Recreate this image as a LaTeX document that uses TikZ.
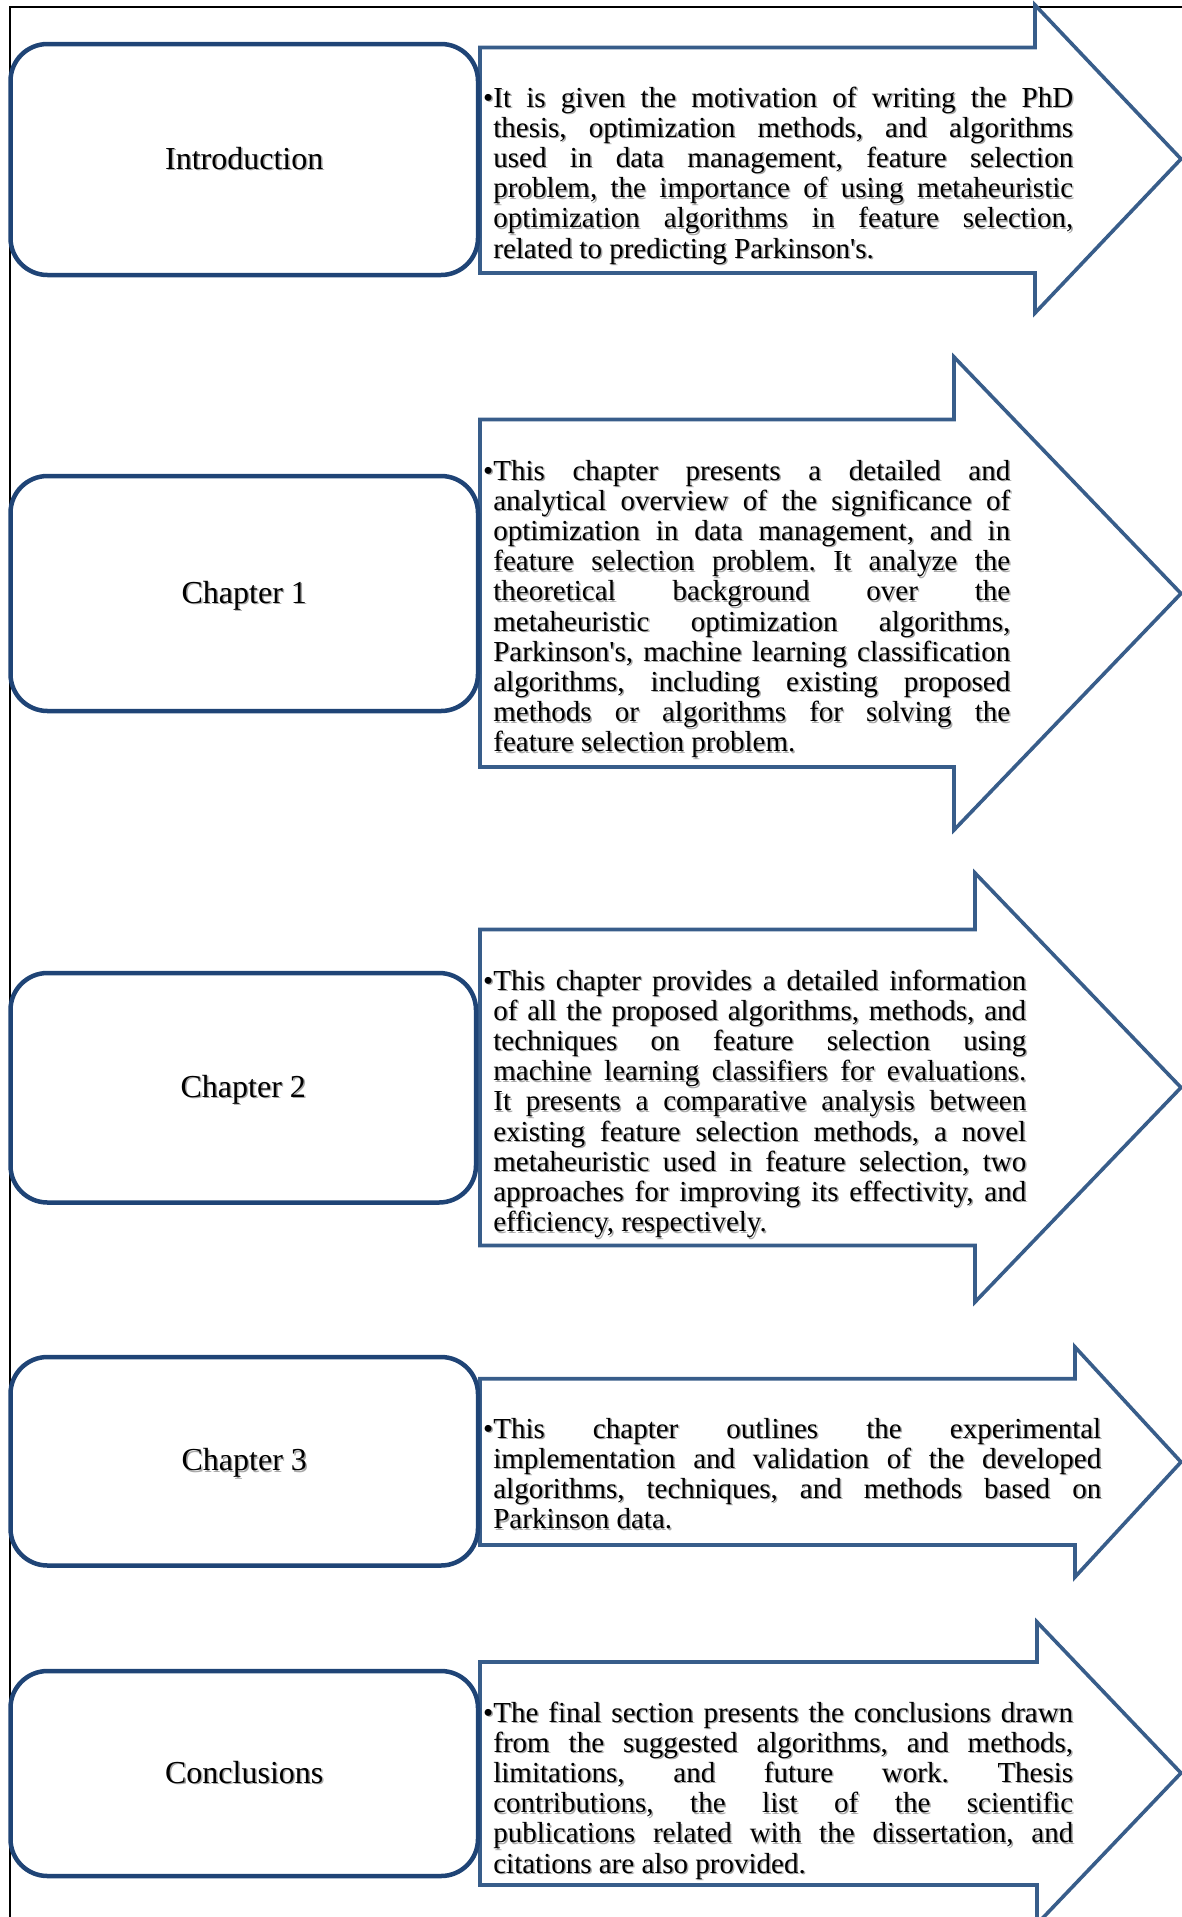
\documentclass[tikz,border=0pt]{standalone}
\usepackage{fontspec}
\setmainfont{Liberation Serif}[Ligatures=TeXOff]
\definecolor{arrowblue}{HTML}{385D8A}
\definecolor{boxnavy}{HTML}{1F4476}
\definecolor{shadowgray}{HTML}{A8A8A8}
\frenchspacing

\newlength\bulw
% text with a soft drop shadow behind it (single line)
\newcommand\withshadow[1]{\makebox[0pt][l]{\hspace*{1.5pt}\raisebox{-1.5pt}{\textcolor{shadowgray}{#1}}}#1}
% bulleted, justified paragraph with a hanging indent
\newcommand\bulletpara[1]{\frenchspacing\tolerance=10000 \hyphenpenalty=10000 \exhyphenpenalty=10000
  \settowidth{\bulw}{•}\hangindent=\bulw \hangafter=1 \noindent •#1\par}

\newcommand\introtext{\bulletpara{It is given the motivation of writing the PhD \linebreak
thesis, optimization methods, and algorithms \linebreak
used in data management, feature selection \linebreak
problem, the importance of using metaheuristic \linebreak
optimization algorithms in feature selection, \linebreak
related to predicting Parkinson's.}}

\newcommand\chaponetext{\bulletpara{This chapter presents a detailed and \linebreak
analytical overview of the significance of \linebreak
optimization in data management, and in \linebreak
feature selection problem. It analyze the \linebreak
theoretical background over the \linebreak
metaheuristic optimization algorithms, \linebreak
Parkinson's, machine learning classification \linebreak
algorithms, including existing proposed \linebreak
methods or algorithms for solving the \linebreak
feature selection problem.}}

\newcommand\chaptwotext{\bulletpara{This chapter provides a detailed information \linebreak
of all the proposed algorithms, methods, and \linebreak
techniques on feature selection using \linebreak
machine learning classifiers for evaluations. \linebreak
It presents a comparative analysis between \linebreak
existing feature selection methods, a novel \linebreak
metaheuristic used in feature selection, two \linebreak
approaches for improving its effectivity, and \linebreak
efficiency, respectively.}}

\newcommand\chapthreetext{\bulletpara{This chapter outlines the experimental \linebreak
implementation and validation of the developed \linebreak
algorithms, techniques, and methods based on \linebreak
Parkinson data.}}

\newcommand\conctext{\bulletpara{The final section presents the conclusions drawn \linebreak
from the suggested algorithms, and methods, \linebreak
limitations, and future work. Thesis \linebreak
contributions, the list of the scientific \linebreak
publications related with the dissertation, and \linebreak
citations are also provided.}}

% block arrow: left, body top, body bottom, head base x, head top, head bottom, tip y
\newcommand\blockarrow[7]{%
  \draw[arrowline] (#1,#2) -- (#4,#2) -- (#4,#5) -- (1181,#7) -- (#4,#6)
    -- (#4,#3) -- (#1,#3) -- cycle;}

\begin{document}
\begin{tikzpicture}[x=1pt,y=-1pt,
  arrowline/.style={draw=arrowblue, line width=3.6pt, fill=white, line join=miter},
  chapbox/.style={draw=boxnavy, line width=4.5pt, fill=white, rounded corners=37pt,
    rectangle, inner sep=0pt},
  chaptitle/.style={font=\fontsize{32}{36}\selectfont, inner sep=0pt, anchor=base,
    yshift=-9.5pt},
  bodytext/.style={font=\fontsize{29}{30.2}\selectfont, align=justify, inner sep=0pt,
    anchor=base west},
  bodyshadow/.style={bodytext, text=shadowgray}
]
\useasboundingbox (0,0) rectangle (1182,1917);
\clip (0,0) rectangle (1182,1917);

% page frame
\draw[line width=2pt] (9.5,1917) -- (9.5,7) -- (1182,7);

% block arrows
\blockarrow{480}{47.5}{273}{1035}{5}{313}{159}
\blockarrow{480}{419.5}{767}{954}{357}{830}{593.5}
\blockarrow{480}{929.5}{1245.5}{975}{873}{1302}{1087.5}
\blockarrow{480}{1378.7}{1545}{1075}{1347}{1577}{1462}
\blockarrow{480}{1662}{1885}{1037}{1622}{1924}{1773}

% rounded chapter boxes
\node[chapbox, minimum width=467.5pt, minimum height=231pt] (intro) at (244.25,159.5) {};
\node[chapbox, minimum width=467.5pt, minimum height=235pt] (chone) at (244.25,593.5) {};
\node[chapbox, minimum width=465.5pt, minimum height=229.5pt] (chtwo) at (243.25,1087.75) {};
\node[chapbox, minimum width=467.5pt, minimum height=208.5pt] (chthree) at (244.25,1461.25) {};
\node[chapbox, minimum width=467.5pt, minimum height=205pt] (conc) at (244.25,1773.5) {};

\node[chaptitle] (introtitle) at (intro.center) {\withshadow{Introduction}};
\node[chaptitle] (chonetitle) at (chone.center) {\withshadow{Chapter 1}};
\node[chaptitle] (chtwotitle) at (chtwo.center) {\withshadow{Chapter 2}};
\node[chaptitle] (chthreetitle) at (chthree.center) {\withshadow{Chapter 3}};
\node[chaptitle] (conctitle) at (conc.center) {\withshadow{Conclusions}};

% descriptions inside the arrows (shadow copy first)
\node[bodyshadow, text width=590pt] (introdescsh) at (484.5,108.5) {\introtext};
\node[bodytext, text width=590pt] (introdesc) at (483,107) {\introtext};
\node[bodyshadow, text width=527pt] (chonedescsh) at (484.5,481.5) {\chaponetext};
\node[bodytext, text width=527pt] (chonedesc) at (483,480) {\chaponetext};
\node[bodyshadow, text width=543pt] (chtwodescsh) at (484.5,991.5) {\chaptwotext};
\node[bodytext, text width=543pt] (chtwodesc) at (483,990) {\chaptwotext};
\node[bodyshadow, text width=618pt] (chthreedescsh) at (484.5,1439.5) {\chapthreetext};
\node[bodytext, text width=618pt] (chthreedesc) at (483,1438) {\chapthreetext};
\node[bodyshadow, text width=590pt] (concdescsh) at (484.5,1723.5) {\conctext};
\node[bodytext, text width=590pt] (concdesc) at (483,1722) {\conctext};
\end{tikzpicture}
\end{document}
